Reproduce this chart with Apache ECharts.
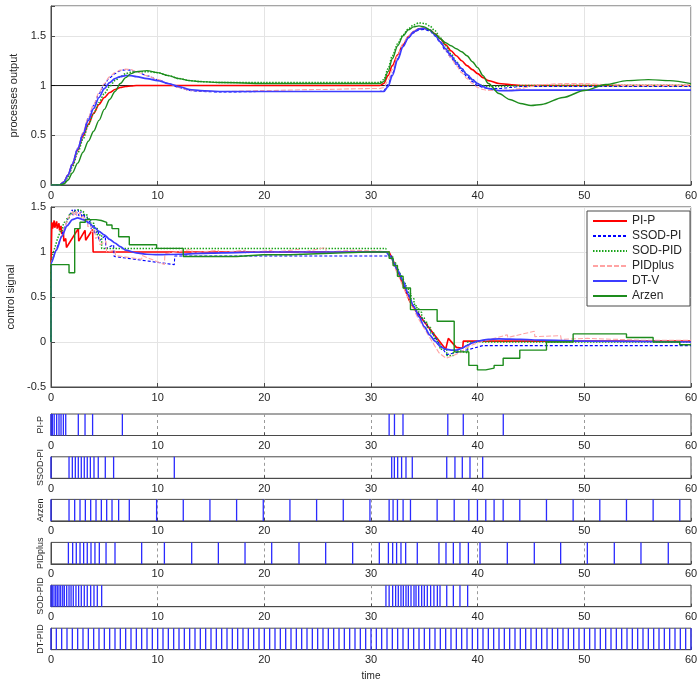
<!DOCTYPE html>
<html><head><meta charset="utf-8">
<script src="https://cdn.jsdelivr.net/npm/echarts@6/dist/echarts.min.js"></script>
<style>html,body{margin:0;padding:0;background:#fff}#c{width:697px;height:684px}</style>
</head><body><div id="c"></div>
<script>
// ---------- data ----------
const controllers = ['PI-P', 'SSOD-PI', 'SOD-PID', 'PIDplus', 'DT-V', 'Arzen'];
const stripLabels = ['PI-P', 'SSOD-PI', 'Arzen', 'PIDplus', 'SOD-PID', 'DT-PID'];
const refLevel = 1;

// process outputs (shared time base)
const outTime = [0, 0.8, 1.2, 1.6, 2, 2.5, 3, 3.5, 4, 4.5, 5, 5.5, 6, 6.5, 7, 7.5, 8, 9, 10, 11, 12, 13, 14, 16, 20, 25, 30, 30.8, 31.2, 31.6, 32, 32.5, 33, 33.5, 34, 34.5, 35, 35.5, 36, 36.5, 37, 37.5, 38, 38.5, 39, 39.5, 40, 40.5, 41, 42, 43, 44, 45, 46, 48, 50, 52, 54, 56, 58, 60];
const yPIP = [0, 0, 0.03, 0.1, 0.2, 0.35, 0.49, 0.61, 0.72, 0.81, 0.88, 0.93, 0.96, 0.98, 0.99, 0.995, 1, 1, 1, 1, 1, 1, 1, 1, 1, 1, 1, 1, 1.02, 1.1, 1.2, 1.31, 1.41, 1.49, 1.54, 1.57, 1.575, 1.56, 1.52, 1.47, 1.41, 1.35, 1.3, 1.25, 1.2, 1.16, 1.12, 1.08, 1.05, 1.02, 1.01, 1, 1, 1, 1, 1, 1, 1, 1, 1, 1];
const ySSOD = [0, 0, 0.03, 0.1, 0.22, 0.37, 0.52, 0.67, 0.8, 0.92, 1.01, 1.08, 1.12, 1.15, 1.16, 1.155, 1.14, 1.1, 1.06, 1.02, 0.98, 0.95, 0.94, 0.935, 0.94, 0.94, 0.94, 0.94, 0.95, 1.01, 1.12, 1.27, 1.4, 1.48, 1.53, 1.56, 1.565, 1.55, 1.5, 1.43, 1.35, 1.28, 1.21, 1.15, 1.09, 1.04, 1.0, 0.98, 0.97, 0.97, 0.98, 0.99, 0.99, 0.99, 0.99, 0.99, 0.99, 0.99, 0.99, 0.99, 0.99];
const ySOD = [0, 0, 0.02, 0.08, 0.18, 0.32, 0.46, 0.6, 0.72, 0.83, 0.92, 0.99, 1.05, 1.09, 1.12, 1.135, 1.14, 1.14, 1.13, 1.1, 1.07, 1.05, 1.04, 1.03, 1.03, 1.03, 1.03, 1.03, 1.06, 1.17, 1.3, 1.42, 1.51, 1.57, 1.61, 1.63, 1.625, 1.6, 1.55, 1.48, 1.4, 1.32, 1.24, 1.17, 1.11, 1.06, 1.02, 1.0, 0.99, 0.99, 0.995, 1, 1, 1, 1, 1, 1, 1, 1, 1, 1];
const yPIDplus = [0, 0, 0.03, 0.1, 0.22, 0.37, 0.53, 0.68, 0.81, 0.93, 1.02, 1.09, 1.13, 1.155, 1.165, 1.16, 1.14, 1.1, 1.06, 1.02, 0.98, 0.95, 0.945, 0.94, 0.95, 0.96, 0.97, 0.97, 0.98, 1.05, 1.16, 1.3, 1.42, 1.5, 1.55, 1.575, 1.58, 1.56, 1.51, 1.44, 1.36, 1.28, 1.2, 1.13, 1.07, 1.02, 0.98, 0.96, 0.95, 0.95, 0.955, 0.97, 0.99, 1.01, 1.02, 1.02, 1.01, 1.0, 1.0, 1.0, 1.0];
const yDTV = [0, 0, 0.03, 0.1, 0.21, 0.36, 0.51, 0.65, 0.77, 0.88, 0.97, 1.03, 1.07, 1.09, 1.1, 1.1, 1.09, 1.07, 1.05, 1.02, 0.99, 0.96, 0.95, 0.94, 0.94, 0.94, 0.94, 0.94, 0.94, 0.99, 1.1, 1.26, 1.39, 1.48, 1.54, 1.57, 1.575, 1.56, 1.51, 1.44, 1.37, 1.3, 1.23, 1.17, 1.11, 1.06, 1.02, 0.99, 0.97, 0.95, 0.95, 0.955, 0.955, 0.955, 0.955, 0.955, 0.955, 0.955, 0.955, 0.955, 0.955];
const yArzen = [0, 0, 0.01, 0.05, 0.12, 0.22, 0.33, 0.44, 0.54, 0.65, 0.76, 0.86, 0.94, 1.02, 1.08, 1.12, 1.14, 1.15, 1.13, 1.1, 1.07, 1.05, 1.04, 1.03, 1.02, 1.02, 1.02, 1.02, 1.04, 1.14, 1.27, 1.4, 1.5, 1.56, 1.59, 1.6, 1.59, 1.56, 1.52, 1.47, 1.43, 1.4, 1.37, 1.34, 1.3, 1.24, 1.18, 1.1, 1.02, 0.92, 0.86, 0.82, 0.8, 0.81, 0.88, 0.95, 1.01, 1.05, 1.06, 1.05, 1.02];

// control signals
const uPIP_t = [0, 0.01, 0.08, 0.15, 0.3, 0.35, 0.53, 0.58, 0.75, 0.8, 0.94, 1.0, 1.16, 1.2, 1.38, 1.45, 2.56, 2.6, 3.19, 3.25, 3.9, 3.95, 31.7, 32.2, 33.0, 33.6, 34.1, 37.0, 37.25, 38.0, 38.6, 38.65, 60];
const uPIP = [0, 0.9, 1.33, 1.26, 1.35, 1.27, 1.34, 1.26, 1.32, 1.24, 1.29, 1.2, 1.24, 1.12, 1.15, 1.05, 1.26, 1.12, 1.24, 1.13, 1.25, 1.0, 1.0, 0.87, 0.64, 0.46, 0.36, -0.08, 0.04, -0.06, -0.07, 0.01, 0.01];
const uSSOD_t = [0, 0.02, 1.69, 2.0, 2.05, 2.28, 2.33, 2.56, 2.61, 2.84, 2.89, 3.12, 3.17, 3.4, 3.45, 3.69, 3.74, 4.03, 4.08, 4.43, 4.48, 5.09, 5.14, 5.87, 5.92, 11.56, 11.6, 31.94, 32.19, 32.5, 32.87, 33.28, 33.87, 37.1, 37.87, 38.56, 39.28, 40.47, 60];
const uSSOD = [0, 0.88, 1.4, 1.47, 1.41, 1.48, 1.41, 1.47, 1.4, 1.45, 1.38, 1.43, 1.35, 1.39, 1.31, 1.35, 1.26, 1.3, 1.2, 1.24, 1.12, 1.18, 1.04, 1.08, 0.95, 0.86, 0.955, 0.955, 0.88, 0.8, 0.7, 0.58, 0.42, -0.14, -0.12, -0.1, -0.08, -0.04, -0.04];
const uSOD_t = [0, 0, 0.12, 0.28, 0.44, 0.59, 0.75, 0.91, 1.1, 1.25, 1.47, 1.69, 1.88, 2.09, 2.34, 2.59, 2.84, 3.12, 3.4, 3.72, 4.03, 4.34, 4.75, 31.4, 31.7, 32.03, 32.31, 32.56, 32.81, 33.03, 33.28, 33.5, 33.75, 34.03, 34.22, 34.47, 34.75, 35.0, 35.28, 35.59, 35.9, 36.22, 36.47, 37.1, 37.72, 38.34, 39.06, 60];
const uSOD = [0, 0.88, 0.95, 1.02, 1.08, 1.14, 1.19, 1.24, 1.29, 1.33, 1.37, 1.41, 1.44, 1.46, 1.47, 1.46, 1.44, 1.41, 1.37, 1.32, 1.26, 1.19, 1.04, 1.0, 0.95, 0.88, 0.82, 0.76, 0.7, 0.65, 0.59, 0.54, 0.48, 0.42, 0.38, 0.33, 0.27, 0.22, 0.16, 0.1, 0.04, -0.02, -0.08, -0.15, -0.1, -0.12, 0.0, 0.0];
const uPIDplus_t = [0, 0.02, 1.63, 2.03, 2.08, 2.37, 2.42, 2.72, 2.77, 3.06, 3.11, 3.4, 3.45, 3.75, 3.8, 4.12, 4.17, 4.53, 4.58, 5.16, 5.21, 6.0, 6.05, 8.5, 8.55, 10.63, 10.68, 13.19, 13.24, 15.69, 15.74, 18.19, 18.24, 20.69, 20.74, 23.25, 23.3, 25.75, 25.8, 28.28, 28.33, 30.78, 31.63, 32.03, 32.4, 32.81, 33.25, 34.34, 36.37, 37.03, 37.72, 38.34, 39.13, 40.22, 42.78, 42.83, 45.31, 45.36, 47.78, 47.83, 50.28, 52.81, 55.31, 57.87, 60];
const uPIDplus = [0, 0.88, 1.38, 1.45, 1.4, 1.46, 1.4, 1.44, 1.37, 1.41, 1.33, 1.36, 1.28, 1.31, 1.22, 1.25, 1.15, 1.18, 1.08, 1.12, 1.0, 1.02, 0.96, 0.92, 0.96, 0.86, 0.98, 1.03, 0.99, 1.02, 0.99, 1.02, 0.99, 1.02, 0.995, 1.03, 0.99, 1.05, 1.0, 1.02, 1.0, 1.01, 1.0, 0.88, 0.78, 0.67, 0.55, 0.28, -0.12, -0.18, -0.15, -0.12, -0.05, 0.0, 0.08, 0.05, 0.12, 0.06, 0.07, 0.03, 0.04, 0.03, 0.02, 0.02, 0.02];
const uDTV_t = [0, 0.02, 0.5, 1.0, 1.5, 2.0, 2.5, 3.0, 3.5, 4.0, 4.5, 5.0, 5.5, 6.0, 6.5, 7.0, 8.0, 9.0, 10, 12, 14, 16, 20, 31.4, 31.8, 32.5, 33, 33.5, 34, 34.5, 35, 35.5, 36, 36.5, 37, 37.5, 38, 38.5, 39, 39.5, 40, 41, 42, 44, 46, 50, 60];
const uDTV = [0, 0.88, 1.02, 1.17, 1.29, 1.36, 1.38, 1.36, 1.33, 1.28, 1.23, 1.19, 1.14, 1.1, 1.06, 1.02, 0.99, 0.975, 0.97, 0.975, 0.985, 0.99, 1.0, 1.0, 0.95, 0.8, 0.68, 0.53, 0.4, 0.28, 0.17, 0.08, 0.01, -0.05, -0.08, -0.09, -0.09, -0.07, -0.04, -0.01, 0.01, 0.03, 0.035, 0.03, 0.02, 0.01, 0.0];
const uArzen_t = [0, 0, 1.69, 2.22, 2.72, 3.22, 3.72, 4.22, 4.72, 5.22, 5.72, 6.34, 7.34, 9.9, 12.4, 14.9, 17.4, 19.9, 22.4, 24.9, 27.4, 29.9, 31.7, 32.07, 32.48, 33.01, 33.7, 36.2, 37.8, 39.17, 39.98, 40.76, 41.54, 42.39, 43.95, 46.45, 48.95, 51.45, 53.95, 56.45, 58.95, 60];
const uArzen = [0, 0.86, 0.77, 1.26, 1.33, 1.36, 1.36, 1.35, 1.33, 1.3, 1.26, 1.17, 1.08, 1.04, 0.95, 0.95, 0.97, 0.97, 0.98, 0.99, 1.0, 1.0, 0.93, 0.85, 0.73, 0.6, 0.36, 0.23, -0.11, -0.26, -0.31, -0.29, -0.26, -0.18, -0.09, 0.0, 0.09, 0.09, 0.05, 0.0, -0.03, -0.03];

// event instants
const evPIP = [0, 0.13, 0.3, 0.53, 0.75, 0.94, 1.16, 1.38, 2.56, 3.19, 3.9, 6.69, 31.7, 32.2, 33.0, 37.2, 38.65, 42.4];
const evSSOD = [0, 1.69, 2.0, 2.28, 2.56, 2.84, 3.12, 3.4, 3.69, 4.03, 4.43, 5.09, 5.87, 11.56, 31.94, 32.19, 32.5, 32.87, 33.28, 33.87, 37.1, 37.87, 38.56, 39.28, 40.47];
const evArzen = [0, 1.69, 2.22, 2.72, 3.22, 3.72, 4.22, 4.72, 5.22, 5.72, 6.34, 7.34, 9.9, 12.4, 14.9, 17.4, 19.9, 22.4, 24.9, 27.4, 29.9, 31.7, 32.07, 32.48, 33.01, 33.7, 36.2, 37.8, 39.17, 39.98, 40.76, 41.54, 42.39, 43.95, 46.45, 48.95, 51.45, 53.95, 56.45, 58.95];
const evPIDplus = [1.63, 2.03, 2.37, 2.72, 3.06, 3.4, 3.75, 4.12, 4.53, 5.16, 6.0, 8.5, 10.63, 13.19, 15.69, 18.19, 20.69, 23.25, 25.75, 28.28, 30.78, 31.63, 32.03, 32.4, 32.81, 33.25, 34.34, 36.37, 37.03, 37.72, 38.34, 39.13, 40.22, 42.78, 45.31, 47.78, 50.28, 52.81, 55.31, 57.87];
const evSOD = [0, 0.12, 0.28, 0.44, 0.59, 0.75, 0.91, 1.1, 1.25, 1.47, 1.69, 1.88, 2.09, 2.34, 2.59, 2.84, 3.12, 3.4, 3.72, 4.03, 4.34, 4.75, 31.4, 31.7, 32.03, 32.31, 32.56, 32.81, 33.03, 33.28, 33.5, 33.75, 34.03, 34.22, 34.47, 34.75, 35.0, 35.28, 35.59, 35.9, 36.22, 36.47, 37.1, 37.72, 38.34, 39.06];
const evDT = [0, 0.5, 1, 1.5, 2, 2.5, 3, 3.5, 4, 4.5, 5, 5.5, 6, 6.5, 7, 7.5, 8, 8.5, 9, 9.5, 10, 10.5, 11, 11.5, 12, 12.5, 13, 13.5, 14, 14.5, 15, 15.5, 16, 16.5, 17, 17.5, 18, 18.5, 19, 19.5, 20, 20.5, 21, 21.5, 22, 22.5, 23, 23.5, 24, 24.5, 25, 25.5, 26, 26.5, 27, 27.5, 28, 28.5, 29, 29.5, 30, 30.5, 31, 31.5, 32, 32.5, 33, 33.5, 34, 34.5, 35, 35.5, 36, 36.5, 37, 37.5, 38, 38.5, 39, 39.5, 40, 40.5, 41, 41.5, 42, 42.5, 43, 43.5, 44, 44.5, 45, 45.5, 46, 46.5, 47, 47.5, 48, 48.5, 49, 49.5, 50, 50.5, 51, 51.5, 52, 52.5, 53, 53.5, 54, 54.5, 55, 55.5, 56, 56.5, 57, 57.5, 58, 58.5, 59, 59.5, 60];

// ---------- build ----------
const FONT = '"Liberation Sans", Arial, Helvetica, sans-serif';
const TXT = '#262626';
const styles = {
  'PI-P':    {color: '#ff0000', width: 1.6, type: 'solid'},
  'SSOD-PI': {color: '#0000ff', width: 1.1, type: [3, 2]},
  'SOD-PID': {color: '#1aa31a', width: 1.5, type: [1.5, 1.5]},
  'PIDplus': {color: '#ffa3a3', width: 1.1, type: [5, 2]},
  'DT-V':    {color: '#3c3cff', width: 1.7, type: 'solid'},
  'Arzen':   {color: '#1d8c1d', width: 1.4, type: 'solid'}
};
const outputs = {'PI-P': yPIP, 'SSOD-PI': ySSOD, 'SOD-PID': ySOD, 'PIDplus': yPIDplus, 'DT-V': yDTV, 'Arzen': yArzen};
const controls = {
  'PI-P': [uPIP_t, uPIP], 'SSOD-PI': [uSSOD_t, uSSOD], 'SOD-PID': [uSOD_t, uSOD],
  'PIDplus': [uPIDplus_t, uPIDplus], 'DT-V': [uDTV_t, uDTV], 'Arzen': [uArzen_t, uArzen]
};
const stepped = {'SOD-PID': true, 'Arzen': true};
const events = [evPIP, evSSOD, evArzen, evPIDplus, evSOD, evDT];

const LEFT = 51, RIGHT = 6;
const gridBoxes = [
  {top: 6, height: 179},
  {top: 207, height: 180},
  {top: 414, height: 21.5},
  {top: 456.8, height: 21.5},
  {top: 499.4, height: 21.5},
  {top: 542.4, height: 21.5},
  {top: 585.2, height: 21.5},
  {top: 628.2, height: 21.5}
];
const grid = gridBoxes.map(g => ({
  left: LEFT, right: RIGHT, top: g.top, height: g.height,
  show: true, borderColor: '#4a4a4a', borderWidth: 1, backgroundColor: '#fff',
  containLabel: false, outerBoundsMode: 'none'
}));

const xAxis = gridBoxes.map((g, i) => ({
  type: 'value', gridIndex: i, min: 0, max: 60, interval: 10,
  axisLine: {show: true, onZero: false, lineStyle: {color: '#4a4a4a', width: 1}},
  axisTick: {show: true, inside: true, length: i < 2 ? 4 : 3, lineStyle: {color: '#4a4a4a'}},
  axisLabel: {show: true, fontSize: 11, color: TXT, fontFamily: FONT, margin: 5},
  splitLine: {show: true, lineStyle: i < 2 ? {color: '#e4e4e4', width: 1} : {color: '#9a9a9a', width: 1, type: [3, 3]}},
  name: i === 7 ? 'time' : '', nameLocation: 'middle', nameGap: 22,
  nameTextStyle: {fontSize: 10, color: TXT, fontFamily: FONT}
}));

const halfStep = v => Math.abs(v * 2 - Math.round(v * 2)) < 1e-6;
const yAxis = [
  {type: 'value', gridIndex: 0, min: 0, max: 1.8, interval: 0.5,
   name: 'processes output'},
  {type: 'value', gridIndex: 1, min: -0.5, max: 1.5, interval: 0.5,
   name: 'control signal'}
].map(a => Object.assign(a, {
  nameLocation: 'middle', nameGap: 29, nameRotate: 90,
  nameTextStyle: {fontSize: 11, color: TXT, fontFamily: FONT},
  axisLine: {show: true, lineStyle: {color: '#4a4a4a'}},
  axisTick: {show: true, inside: true, length: 4, lineStyle: {color: '#4a4a4a'}},
  axisLabel: {fontSize: 11, color: TXT, fontFamily: FONT, margin: 5,
    formatter: v => halfStep(v) ? String(+v.toFixed(1)) : ''},
  splitLine: {show: true, lineStyle: {color: '#e4e4e4', width: 1}}
}));
stripLabels.forEach((lab, k) => {
  yAxis.push({
    type: 'value', gridIndex: k + 2, min: 0, max: 1,
    axisLine: {show: true, lineStyle: {color: '#4a4a4a'}},
    axisTick: {show: false}, axisLabel: {show: false}, splitLine: {show: false},
    name: lab, nameLocation: 'middle', nameGap: 6, nameRotate: 90,
    nameTextStyle: {fontSize: 9, color: TXT, fontFamily: FONT}
  });
});

const series = [];
// process outputs
controllers.forEach(name => {
  const s = styles[name];
  series.push({
    name, type: 'line', xAxisIndex: 0, yAxisIndex: 0,
    data: outTime.map((t, i) => [t, outputs[name][i]]),
    symbol: 'none', showSymbol: false, smooth: 0.3, smoothMonotone: 'x',
    lineStyle: {color: s.color, width: s.width, type: s.type},
    itemStyle: {color: s.color}, animation: false
  });
});
series.push({
  name: 'reference', type: 'line', xAxisIndex: 0, yAxisIndex: 0,
  data: [[0, refLevel], [60, refLevel]], symbol: 'none',
  lineStyle: {color: '#000', width: 0.9}, z: 1, animation: false
});
// control signals
controllers.forEach(name => {
  const s = styles[name];
  const [tt, uu] = controls[name];
  series.push({
    name, type: 'line', xAxisIndex: 1, yAxisIndex: 1,
    data: tt.map((t, i) => [t, uu[i]]),
    symbol: 'none', showSymbol: false,
    step: stepped[name] ? 'end' : false,
    smooth: name === 'DT-V' ? 0.25 : false, smoothMonotone: 'x',
    lineStyle: {color: s.color, width: s.width, type: s.type},
    itemStyle: {color: s.color}, animation: false
  });
});
// event strips
events.forEach((ev, k) => {
  series.push({
    name: 'events-' + stripLabels[k], type: 'custom', xAxisIndex: k + 2, yAxisIndex: k + 2,
    data: ev.map(t => [t]),
    renderItem: (params, api) => {
      const p0 = api.coord([api.value(0), 0]);
      const p1 = api.coord([api.value(0), 1]);
      return {type: 'line', shape: {x1: p0[0], y1: p0[1], x2: p1[0], y2: p1[1]},
        style: {stroke: '#2a2aff', lineWidth: 1.3}};
    },
    animation: false
  });
});

const option = {
  backgroundColor: '#fff',
  animation: false,
  textStyle: {fontFamily: FONT},
  grid, xAxis, yAxis, series,
  legend: {
    data: controllers, orient: 'vertical', left: 587, top: 211,
    itemWidth: 34, itemHeight: 10, itemGap: 3,
    padding: [4, 8, 4, 5],
    itemStyle: {opacity: 0, borderWidth: 0},
    backgroundColor: '#fff', borderColor: '#4a4a4a', borderWidth: 1, borderRadius: 0,
    textStyle: {fontSize: 12, color: TXT, fontFamily: FONT, lineHeight: 12},
    selectedMode: false
  }
};

const chart = echarts.init(document.getElementById('c'), null, {renderer: 'canvas', width: 697, height: 684});
chart.setOption(option);
</script>
</body></html>
